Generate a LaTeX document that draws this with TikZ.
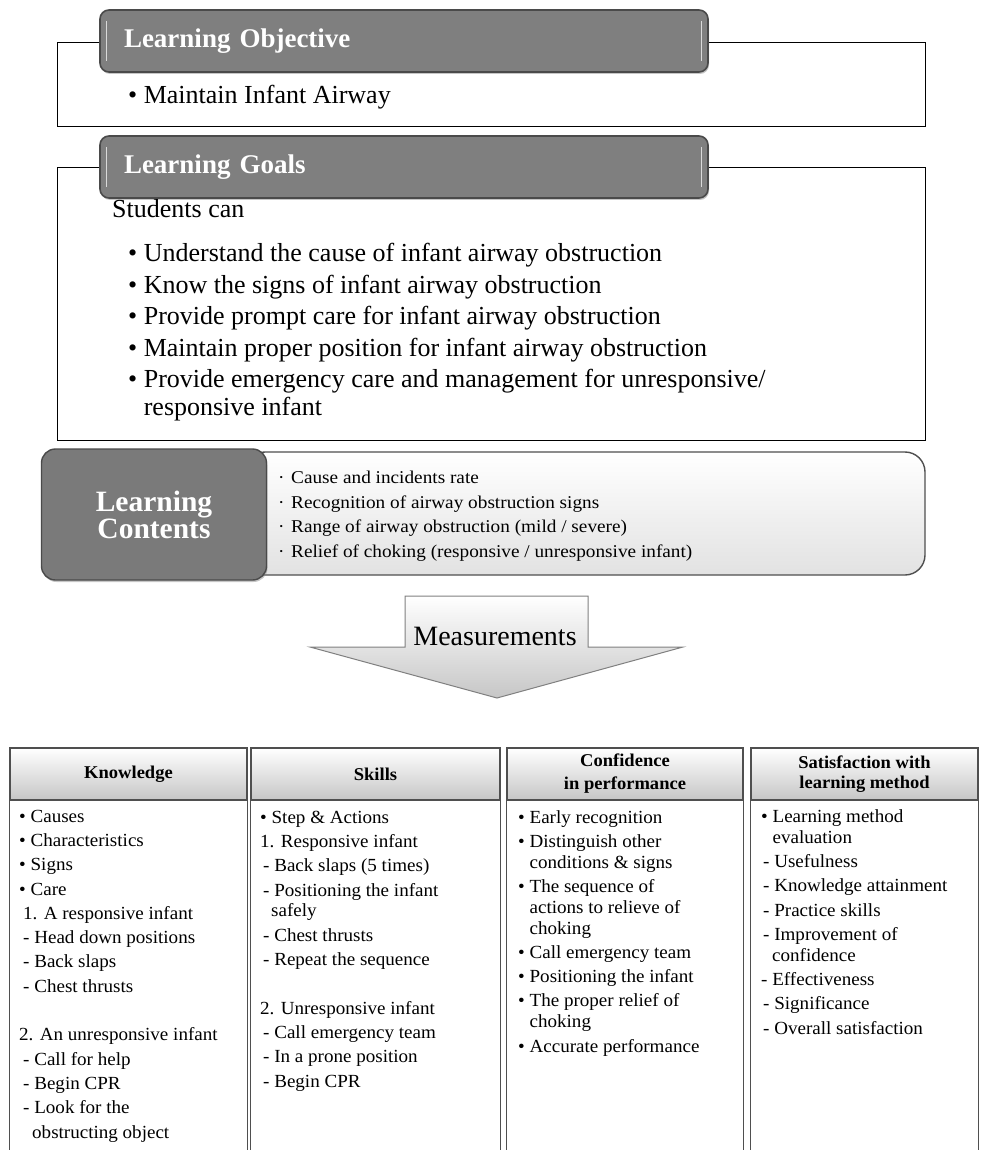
\documentclass[tikz,border=0pt]{standalone}
\usepackage{fontspec}
\setmainfont{Liberation Serif}
\newfontfamily\widefont[FakeStretch=1.07]{Liberation Serif}
\newfontfamily\tablefont[FakeStretch=1.03]{Liberation Serif}
\usepackage{tikz}
\usetikzlibrary{positioning,shadows}

\definecolor{tabgray}{HTML}{7F7F7F}
\definecolor{tabedge}{HTML}{4A4A4A}
\definecolor{darkbox}{HTML}{7A7A7A}
\definecolor{panelbot}{HTML}{E2E2E2}
\definecolor{headbot}{HTML}{C6C6C6}
\definecolor{gridline}{HTML}{4F4F4F}

\newcommand{\bl}{\textbullet\ }
\newcommand{\sd}{\makebox[13pt][l]{\textperiodcentered}}

\tikzset{
  frame/.style={draw=black, line width=0.9pt},
  tab/.style={draw=tabedge, line width=1.6pt, fill=tabgray, rounded corners=9pt,
    text width=560, align=left, inner xsep=24, inner ysep=0, minimum height=62,
    text=white, font=\bfseries\fontsize{27}{31}\selectfont,
    drop shadow={shadow xshift=1pt, shadow yshift=-2pt, opacity=0.45}},
  bevel/.style={draw=gray!30, line width=1.2pt},
  bigtext/.style={anchor=base west, inner sep=0, align=left},
  cbox/.style={draw=tabedge, line width=1.4pt, fill=darkbox, rounded corners=14pt,
    minimum width=225, minimum height=131, text=white, align=center,
    font=\bfseries\fontsize{29.5}{29}\selectfont,
    drop shadow={shadow xshift=1pt, shadow yshift=-2pt, opacity=0.45}},
  cpanel/.style={draw=gridline, line width=1.4pt, top color=white, bottom color=panelbot,
    rounded corners=20pt, minimum width=680, minimum height=123},
  arrowshape/.style={draw=gray, line width=1pt, top color=white, bottom color=headbot},
  head/.style={draw=gridline, line width=1.3pt, top color=white, bottom color=headbot,
    minimum height=52, align=center, font=\tablefont\bfseries\fontsize{18}{20}\selectfont},
  colline/.style={draw=gridline, line width=1.3pt},
  coltext/.style={anchor=base west, inner sep=0, align=left,
    font=\tablefont\fontsize{18.5}{24.3}\selectfont}
}

\begin{document}
\begin{tikzpicture}[x=1pt,y=-1pt]
\useasboundingbox (0,0) rectangle (982,1150);

\draw[frame] (57,42) rectangle (925,126);
\node[tab] (objtab) at (404,41) {Learning Objective};
\draw[bevel] ([shift={(7,-20)}]objtab.west) -- ([shift={(7,20)}]objtab.west);
\draw[bevel] ([shift={(-7,-20)}]objtab.east) -- ([shift={(-7,20)}]objtab.east);
\node[bigtext, font=\fontsize{26}{30}\selectfont] (objitem) at (128,104) {\bl Maintain Infant Airway};

\draw[frame] (57,167) rectangle (925,440);
\node[tab] (goaltab) at (404,167) {Learning Goals};
\draw[bevel] ([shift={(7,-20)}]goaltab.west) -- ([shift={(7,20)}]goaltab.west);
\draw[bevel] ([shift={(-7,-20)}]goaltab.east) -- ([shift={(-7,20)}]goaltab.east);
\node[bigtext, font=\fontsize{26}{30}\selectfont] (students) at (112,218) {Students can};
\node[bigtext, font=\fontsize{26}{31.5}\selectfont] (goals) at (128,415)
  {\bl Understand the cause of infant airway obstruction\\
   \bl Know the signs of infant airway obstruction\\
   \bl Provide prompt care for infant airway obstruction\\
   \bl Maintain proper position for infant airway obstruction\\
   \bl Provide emergency care and management for unresponsive/\\[-4pt]
   \hphantom{\bl}responsive infant};

\node[cpanel] (contpanel) at (585,513.5) {};
\node[cbox] (conttab) at (154,514.5) {Learning\\[-2pt]Contents};
\node[bigtext, font=\widefont\fontsize{18}{24.5}\selectfont] (contents) at (278,557)
  {\sd Cause and incidents rate\\
   \sd Recognition of airway obstruction signs\\
   \sd Range of airway obstruction (mild / severe)\\
   \sd Relief of choking (responsive / unresponsive infant)};

\draw[arrowshape] (405,596) -- (588,596) -- (588,647) -- (683,647) -- (497,698)
  -- (310,647) -- (405,647) -- cycle;
\node[font=\fontsize{28}{30}\selectfont, anchor=base] (meas) at (495,645) {Measurements};

\node[head, minimum width=237] (khead) at (128.5,774) {Knowledge};
\node[head, minimum width=249] (shead) at (375.5,774) {Skills};
\node[head, minimum width=236] (chead) at (625,774) {Confidence\\[3pt]in performance};
\node[head, minimum width=227] (mhead) at (864.5,774) {Satisfaction with\\learning method};

\draw[colline] (khead.south west) -- ++(0,352) (khead.south east) -- ++(0,352);
\draw[colline] (shead.south west) -- ++(0,352) (shead.south east) -- ++(0,352);
\draw[colline] (chead.south west) -- ++(0,352) (chead.south east) -- ++(0,352);
\draw[colline] (mhead.south west) -- ++(0,352) (mhead.south east) -- ++(0,352);

\node[coltext] (ktext) at (19,1138)
  {\bl Causes\\
   \bl Characteristics\\
   \bl Signs\\
   \bl Care\\
   \hspace{4pt}1. A responsive infant\\
   \hspace{4pt}- Head down positions\\
   \hspace{4pt}- Back slaps\\
   \hspace{4pt}- Chest thrusts\\[24.3pt]
   2. An unresponsive infant\\
   \hspace{4pt}- Call for help\\
   \hspace{4pt}- Begin CPR\\
   \hspace{4pt}- Look for the\\
   \hspace{13pt}obstructing object};

\node[coltext] (stext) at (260,1087)
  {\bl Step \& Actions\\
   1. Responsive infant\\
   \hspace{3pt}- Back slaps (5 times)\\
   \hspace{3pt}- Positioning the infant\\[-3.5pt]
   \hspace{11pt}safely\\
   \hspace{3pt}- Chest thrusts\\
   \hspace{3pt}- Repeat the sequence\\[24.3pt]
   2. Unresponsive infant\\
   \hspace{3pt}- Call emergency team\\
   \hspace{3pt}- In a prone position\\
   \hspace{3pt}- Begin CPR};

\node[coltext] (ctext) at (518,1052)
  {\bl Early recognition\\
   \bl Distinguish other\\[-3.5pt]
   \hphantom{\bl}conditions \& signs\\
   \bl The sequence of\\[-3.5pt]
   \hphantom{\bl}actions to relieve of\\[-3.5pt]
   \hphantom{\bl}choking\\
   \bl Call emergency team\\
   \bl Positioning the infant\\
   \bl The proper relief of\\[-3.5pt]
   \hphantom{\bl}choking\\
   \bl Accurate performance};

\node[coltext] (mtext) at (761,1034)
  {\bl Learning method\\[-3.5pt]
   \hphantom{\bl}evaluation\\
   \hspace{2pt}- Usefulness\\
   \hspace{2pt}- Knowledge attainment\\
   \hspace{2pt}- Practice skills\\
   \hspace{2pt}- Improvement of\\[-3.5pt]
   \hspace{11pt}confidence\\
   - Effectiveness\\
   \hspace{2pt}- Significance\\
   \hspace{2pt}- Overall satisfaction};
\end{tikzpicture}
\end{document}
